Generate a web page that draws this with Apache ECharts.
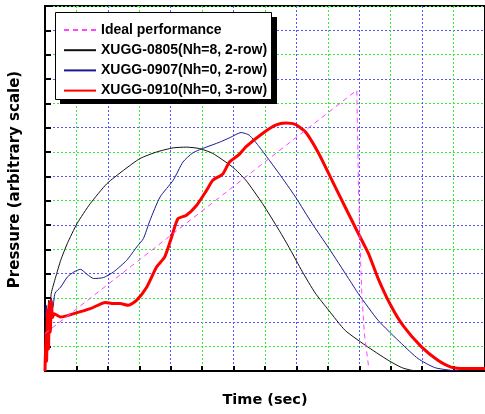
<!DOCTYPE html>
<html>
<head>
<meta charset="utf-8">
<script src="https://cdn.jsdelivr.net/npm/echarts@6/dist/echarts.min.js"></script>
<style>html,body{margin:0;padding:0;background:#fff;}#c{width:485px;height:414px;}</style>
</head>
<body>
<div id="c"></div>
<script>
const seriesNames = ["Ideal performance", "XUGG-0805(Nh=8, 2-row)", "XUGG-0907(Nh=0, 2-row)", "XUGG-0910(Nh=0, 3-row)"];
const xAxisTitle = "Time (sec)";
const yAxisTitle = "Pressure (arbitrary scale)";

const idealData = [[0,1.54],[9.92,11.54],[9.95,9.5],[9.97,7.8],[10.03,5.0],[10.08,3.2],[10.16,1.55],[10.29,0.24]];

const xugg0805 = [[0,1.8],[0.04,2.5],[0.08,2.1],[0.12,2.9],[0.16,2.6],[0.2,3.2],[0.34,3.86],[0.5,4.55],[0.71,5.24],[1.02,6.06],[1.44,6.88],[1.97,7.7],[2.5,8.25],[3.02,8.73],[3.55,9.0],[4.08,9.17],[4.5,9.2],[4.92,9.14],[5.34,8.94],[5.97,8.38],[6.39,7.84],[6.92,6.88],[7.45,5.78],[7.8,5.0],[8.18,4.1],[8.6,3.2],[9.03,2.49],[9.55,1.67],[10.19,1.06],[10.92,0.44],[11.35,0.14],[11.66,0.03],[12.0,0]];

const xugg0907 = [[0,2.2],[0.04,2.7],[0.08,1.9],[0.12,2.9],[0.16,2.2],[0.2,3.0],[0.25,2.6],[0.32,3.2],[0.5,3.45],[0.71,3.86],[0.92,4.07],[1.13,4.18],[1.34,3.97],[1.55,3.8],[1.86,3.84],[2.18,4.07],[2.6,4.55],[2.92,5.1],[3.13,5.44],[3.34,6.19],[3.66,7.15],[4.08,7.84],[4.39,8.59],[4.71,8.97],[5.13,9.2],[5.55,9.4],[5.9,9.6],[6.24,9.8],[6.5,9.69],[6.82,9.21],[7.45,8.11],[7.97,7.15],[8.5,6.06],[9.03,5.05],[9.66,3.8],[9.97,3.18],[10.6,2.08],[11.34,1.13],[11.87,0.51],[12.4,0.14],[12.9,0.03],[13.2,0]];

const xugg0910 = [[0,0],[0.03,1.6],[0.05,0.4],[0.08,2.5],[0.11,0.9],[0.14,2.8],[0.17,1.6],[0.2,2.9],[0.24,2.2],[0.29,2.35],[0.5,2.22],[0.92,2.36],[1.44,2.56],[1.92,2.82],[2.18,2.77],[2.39,2.77],[2.65,2.7],[2.92,2.91],[3.24,3.45],[3.55,4.27],[3.81,4.69],[4.03,5.51],[4.23,6.26],[4.5,6.4],[4.82,6.8],[5.13,7.4],[5.34,7.84],[5.66,8.1],[5.87,8.59],[6.18,8.9],[6.39,9.21],[6.92,9.76],[7.34,10.1],[7.66,10.19],[7.97,10.13],[8.29,9.82],[8.71,8.94],[9.13,7.84],[9.55,6.74],[9.97,5.65],[10.29,4.83],[10.6,3.8],[11.0,2.7],[11.4,1.85],[11.97,1.0],[12.5,0.44],[12.92,0.16],[13.35,0.1],[14,0.1]];

const chart = echarts.init(document.getElementById('c'), null, {renderer: 'canvas'});
const gridColors = ['#5555ff', '#33ee33'];
const option = {
  animation: false,
  backgroundColor: '#fff',
  grid: {left: 44, top: 6, width: 443, height: 365, show: true, borderColor: '#000', borderWidth: 2, backgroundColor: 'transparent'},
  graphic: [
    {type: 'rect', z: 5, shape: {x: 60, y: 17, width: 217, height: 87}, style: {fill: '#000'}},
    {type: 'rect', z: 6, shape: {x: 55.5, y: 12.5, width: 216, height: 87}, style: {fill: '#fff', stroke: '#000', lineWidth: 1}}
  ],
  legend: {
    z: 10,
    orient: 'vertical',
    left: 63,
    top: 23,
    padding: 0,
    itemWidth: 32,
    itemHeight: 14,
    itemGap: 6.2,
    data: seriesNames,
    itemStyle: {opacity: 0},
    textStyle: {fontFamily: 'Liberation Sans', fontWeight: 'bold', fontSize: 14, color: '#000'}
  },
  xAxis: {
    type: 'value', min: 0, max: 14, interval: 1,
    name: xAxisTitle, nameLocation: 'middle', nameGap: 22,
    nameTextStyle: {fontFamily: 'DejaVu Sans', fontWeight: 'bold', fontSize: 14.5, color: '#000'},
    axisLine: {lineStyle: {color: '#000', width: 2}},
    axisTick: {inside: true, length: 5, lineStyle: {color: '#000', width: 2}},
    axisLabel: {show: false},
    splitLine: {show: true, lineStyle: {color: gridColors, type: [2, 2], width: 1}}
  },
  yAxis: {
    type: 'value', min: 0, max: 15, interval: 1,
    name: yAxisTitle, nameLocation: 'middle', nameGap: 22, nameRotate: 90,
    nameTextStyle: {fontFamily: 'DejaVu Sans', fontWeight: 'bold', fontSize: 15, color: '#000', padding: [0, 0, 0, 18]},
    axisLine: {lineStyle: {color: '#000', width: 2}},
    axisTick: {inside: true, length: 6, lineStyle: {color: '#000', width: 2}},
    axisLabel: {show: false},
    splitLine: {show: true, lineStyle: {color: gridColors, type: [2, 2], width: 1}}
  },
  series: [
    {name: seriesNames[0], type: 'line', data: idealData, symbol: 'none', lineStyle: {color: '#ff44ff', width: 1, type: [5, 4]}, itemStyle: {color: '#ff44ff'}, z: 4},
    {name: seriesNames[1], type: 'line', data: xugg0805, symbol: 'none', smooth: 0.2, lineStyle: {color: '#111', width: 1}, itemStyle: {color: '#111'}, z: 2},
    {name: seriesNames[2], type: 'line', data: xugg0907, symbol: 'none', smooth: 0.2, lineStyle: {color: '#1a1a90', width: 1}, itemStyle: {color: '#1a1a90'}, z: 2},
    {name: seriesNames[3], type: 'line', data: xugg0910, symbol: 'none', smooth: 0.2, lineStyle: {color: '#ff0000', width: 3}, itemStyle: {color: '#ff0000'}, z: 3}
  ]
};
chart.setOption(option);
</script>
</body>
</html>
